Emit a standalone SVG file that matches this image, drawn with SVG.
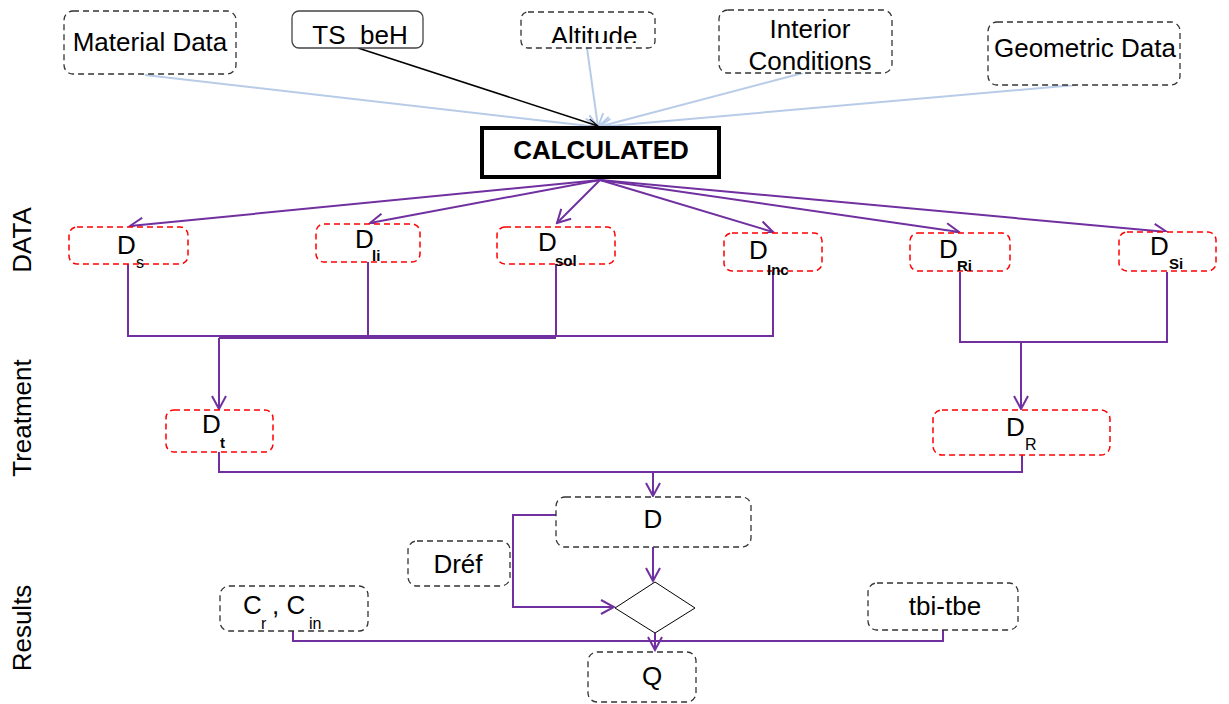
<svg xmlns="http://www.w3.org/2000/svg" width="1229" height="704" viewBox="0 0 1229 704">
  <style>
    text { font-family: "Liberation Sans", Arial, sans-serif; fill: #000; }
    .lbl { font-size: 26px; }
    .sub { font-size: 16px; }
    .subb { font-size: 15px; font-weight: bold; }
    .gray { fill: #fff; stroke: #333; stroke-width: 1.3; stroke-dasharray: 6 4; }
    .red { fill: #fff; stroke: #ff0000; stroke-width: 1.5; stroke-dasharray: 6 4; }
    .blue { fill: none; stroke: #b8cce8; stroke-width: 2; marker-end: url(#ab); }
    .pur { fill: none; stroke: #7030a0; stroke-width: 2; }
    .arr { marker-end: url(#ap); }
  </style>
  <defs>
    <marker id="ap" markerUnits="userSpaceOnUse" markerWidth="16" markerHeight="16" viewBox="0 0 16 16" refX="14" refY="8" orient="auto">
      <path d="M1 1 L14 8 L1 15" fill="none" stroke="#7030a0" stroke-width="2"/>
    </marker>
    <marker id="ab" markerUnits="userSpaceOnUse" markerWidth="16" markerHeight="16" viewBox="0 0 16 16" refX="14" refY="8" orient="auto">
      <path d="M1 1 L14 8 L1 15" fill="none" stroke="#b8cce8" stroke-width="2"/>
    </marker>
    <marker id="ak" markerUnits="userSpaceOnUse" markerWidth="12" markerHeight="12" viewBox="0 0 12 12" refX="11" refY="6" orient="auto">
      <path d="M1 2 L11 6 L1 10" fill="none" stroke="#000" stroke-width="1.2"/>
    </marker>
    <clipPath id="altClip"><rect x="521" y="12" width="134" height="31"/></clipPath>
  </defs>

  <!-- side labels -->
  <g id="side-labels" class="lbl">
    <text transform="translate(31 240) rotate(-90)" text-anchor="middle" class="lbl">DATA</text>
    <text transform="translate(31 418) rotate(-90)" text-anchor="middle" class="lbl">Treatment</text>
    <text transform="translate(31 628) rotate(-90)" text-anchor="middle" class="lbl">Results</text>
  </g>

  <!-- connectors -->
  <g id="connectors">
    <!-- inputs into CALCULATED -->
    <line class="blue" x1="145" y1="75" x2="598" y2="127"/>
    <line class="blue" x1="587" y1="48" x2="598" y2="127"/>
    <line class="blue" x1="803" y1="73" x2="598" y2="127"/>
    <line class="blue" x1="1076" y1="85" x2="598" y2="127"/>
    <line x1="358" y1="48" x2="598" y2="126" stroke="#000" stroke-width="1.5" marker-end="url(#ak)"/>

    <!-- CALCULATED to data items -->
    <line class="pur arr" x1="600" y1="180" x2="130" y2="226"/>
    <line class="pur arr" x1="600" y1="180" x2="370" y2="223"/>
    <line class="pur arr" x1="600" y1="180" x2="557" y2="223"/>
    <line class="pur arr" x1="600" y1="180" x2="773" y2="232"/>
    <line class="pur arr" x1="600" y1="180" x2="959" y2="232"/>
    <line class="pur arr" x1="600" y1="180" x2="1167" y2="232"/>

    <!-- left bus to Dt -->
    <path class="pur" d="M128 264 V336 H773 V272"/>
    <path class="pur" d="M368 262 V336"/>
    <path class="pur" d="M556 264 V336"/>
    <path class="pur arr" d="M219 338 H556 M219 338 V409"/>

    <!-- right bus to DR -->
    <path class="pur" d="M960 272 V342 H1167 V272"/>
    <path class="pur arr" d="M1021 342 V409"/>

    <!-- treatment to D -->
    <path class="pur" d="M219 449 V472 H1022 V449"/>
    <path class="pur arr" d="M653 472 V496"/>

    <!-- D to comparison -->
    <path class="pur arr" d="M653 537 V581"/>
    <path class="pur arr" d="M556 515 H513 V607 H614"/>

    <!-- results to Q -->
    <path class="pur" d="M293 631 V641 H943 V630"/>
    <path class="pur arr" d="M655 633 V650"/>
  </g>

  <!-- input nodes -->
  <g id="material-data">
    <rect class="gray" x="64" y="11" width="172" height="63" rx="9"/>
    <text class="lbl" x="150" y="51" text-anchor="middle">Material Data</text>
  </g>
  <g id="ts-beh">
    <rect x="292" y="11" width="131" height="37" rx="7" fill="#fff" stroke="#444" stroke-width="1.3"/>
    <text class="lbl" x="360" y="44" text-anchor="middle" xml:space="preserve">TS  beH</text>
  </g>
  <g id="altitude">
    <rect class="gray" x="521" y="12" width="134" height="36" rx="7"/>
    <text class="lbl" x="594" y="45" text-anchor="middle" clip-path="url(#altClip)">Altitude</text>
  </g>
  <g id="interior-conditions">
    <rect class="gray" x="719" y="10" width="173" height="63" rx="9"/>
    <text class="lbl" x="810" y="38" text-anchor="middle">Interior</text>
    <text class="lbl" x="810" y="70" text-anchor="middle">Conditions</text>
  </g>
  <g id="geometric-data">
    <rect class="gray" x="988" y="22" width="192" height="63" rx="9"/>
    <text class="lbl" x="1085" y="57" text-anchor="middle">Geometric Data</text>
  </g>

  <g id="calculated">
    <rect x="482" y="128" width="237" height="49" fill="#fff" stroke="#000" stroke-width="4"/>
    <text x="601" y="159" text-anchor="middle" style="font-size:26px;font-weight:bold">CALCULATED</text>
  </g>

  <!-- data items -->
  <g id="d-s">
    <rect class="red" x="69" y="227" width="119" height="37" rx="8"/>
    <text class="lbl" x="117" y="254">D</text>
    <text class="sub" x="136" y="268">s</text>
  </g>
  <g id="d-li">
    <rect class="red" x="316" y="224" width="104" height="38" rx="8"/>
    <text class="lbl" x="355" y="248">D</text>
    <text class="subb" x="372" y="261">li</text>
  </g>
  <g id="d-sol">
    <rect class="red" x="497" y="227" width="118" height="37" rx="8"/>
    <text class="lbl" x="538" y="251">D</text>
    <text class="subb" x="555" y="266">sol</text>
  </g>
  <g id="d-inc">
    <rect class="red" x="724" y="233" width="98" height="38" rx="8"/>
    <text class="lbl" x="749" y="259">D</text>
    <text class="subb" x="767" y="275">Inc</text>
  </g>
  <g id="d-ri">
    <rect class="red" x="910" y="233" width="100" height="38" rx="8"/>
    <text class="lbl" x="939" y="258">D</text>
    <text class="subb" x="957" y="271">Ri</text>
  </g>
  <g id="d-si">
    <rect class="red" x="1119" y="232" width="97" height="39" rx="8"/>
    <text class="lbl" x="1150" y="255">D</text>
    <text class="subb" x="1169" y="269">Si</text>
  </g>

  <!-- treatment -->
  <g id="d-t">
    <rect class="red" x="166" y="410" width="107" height="42" rx="8"/>
    <text class="lbl" x="202" y="433">D</text>
    <text class="subb" x="220" y="448">t</text>
  </g>
  <g id="d-r">
    <rect class="red" x="933" y="410" width="177" height="45" rx="9"/>
    <text class="lbl" x="1006" y="436">D</text>
    <text class="sub" x="1025" y="450">R</text>
  </g>

  <!-- results -->
  <g id="d-total">
    <rect class="gray" x="556" y="497" width="195" height="50" rx="9"/>
    <text class="lbl" x="653" y="528" text-anchor="middle">D</text>
  </g>
  <g id="d-ref">
    <rect class="gray" x="408" y="541" width="102" height="45" rx="9"/>
    <text class="lbl" x="458" y="573" text-anchor="middle">Dréf</text>
  </g>
  <g id="compare">
    <polygon points="615,608 655,582 695,608 655,633" fill="#fff" stroke="#000" stroke-width="1"/>
  </g>
  <g id="c-r-c-in">
    <rect class="gray" x="220" y="586" width="148" height="45" rx="9"/>
    <text class="lbl" x="243" y="614">C</text>
    <text class="sub" x="261" y="629">r</text>
    <text class="lbl" x="272" y="614">, C</text>
    <text class="sub" x="309" y="629">in</text>
  </g>
  <g id="tbi-tbe">
    <rect class="gray" x="868" y="583" width="150" height="47" rx="9"/>
    <text class="lbl" x="945" y="615" text-anchor="middle">tbi-tbe</text>
  </g>
  <g id="q">
    <rect class="gray" x="588" y="652" width="108" height="50" rx="9"/>
    <text class="lbl" x="652" y="685" text-anchor="middle">Q</text>
  </g>
</svg>
